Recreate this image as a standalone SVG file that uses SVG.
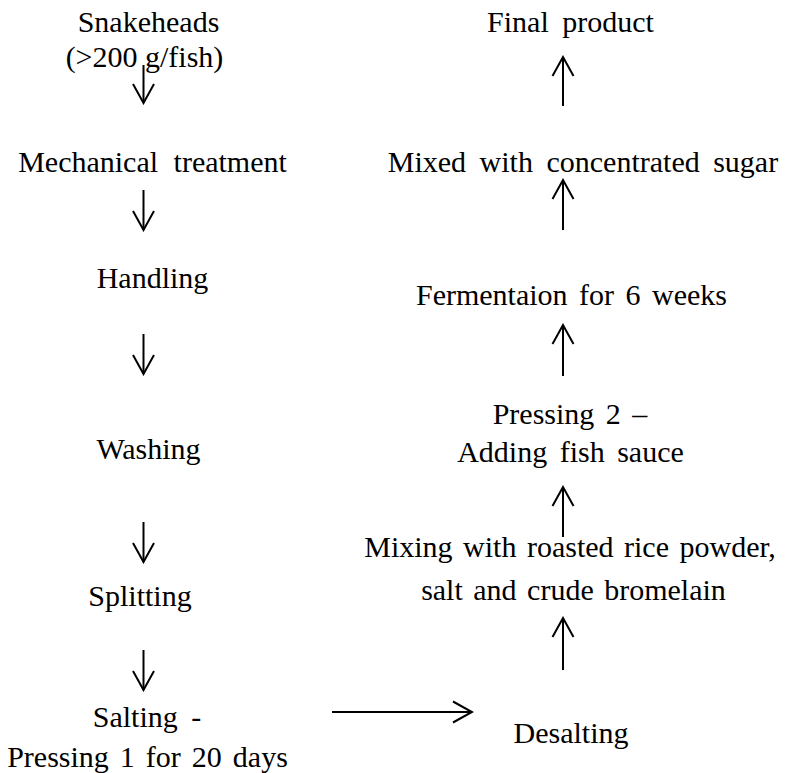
<svg xmlns="http://www.w3.org/2000/svg" width="798" height="773" viewBox="0 0 798 773" font-family="Liberation Serif" font-size="30">
<defs>
  <marker id="ah" markerUnits="userSpaceOnUse" viewBox="-21 -12 23 24" markerWidth="23" markerHeight="24" refX="0" refY="0" orient="auto">
    <path d="M-19,-10.5 L0,0 L-19,10.5" fill="none" stroke="#000" stroke-width="2"/>
  </marker>
</defs>
<rect width="798" height="773" fill="#fff"/>
<g text-anchor="middle" fill="#000">
<g id="n-snakeheads"><text x="148.5" y="32">Snakeheads</text><text x="144.5" y="67">(&gt;200 g/fish)</text></g>
<g id="n-mechanical"><text x="152.5" y="172" word-spacing="8">Mechanical treatment</text></g>
<g id="n-handling"><text x="152.5" y="288">Handling</text></g>
<g id="n-washing"><text x="148.5" y="459">Washing</text></g>
<g id="n-splitting"><text x="140" y="606">Splitting</text></g>
<g id="n-salting"><text x="147" y="727" word-spacing="6">Salting -</text><text x="147.5" y="767" word-spacing="3.5">Pressing 1 for 20 days</text></g>
<g id="n-final"><text x="570.5" y="32" word-spacing="6">Final product</text></g>
<g id="n-mixed"><text x="583" y="172" word-spacing="6">Mixed with concentrated sugar</text></g>
<g id="n-fermentation"><text x="571.5" y="305" word-spacing="4">Fermentaion for 6 weeks</text></g>
<g id="n-pressing2"><text x="570" y="424" word-spacing="4">Pressing 2 &#8211;</text><text x="570.5" y="462" word-spacing="5">Adding fish sauce</text></g>
<g id="n-mixing"><text x="570" y="557" word-spacing="3">Mixing with roasted rice powder,</text><text x="573.5" y="600" word-spacing="3">salt and crude bromelain</text></g>
<g id="n-desalting"><text x="571" y="743">Desalting</text></g>
</g>
<g id="connectors" stroke="#000" stroke-width="2" fill="none">
  <line x1="143.5" y1="65" x2="143.5" y2="103" marker-end="url(#ah)"/>
  <line x1="143.5" y1="190" x2="143.5" y2="230" marker-end="url(#ah)"/>
  <line x1="143.5" y1="334" x2="143.5" y2="374" marker-end="url(#ah)"/>
  <line x1="143.5" y1="522" x2="143.5" y2="562" marker-end="url(#ah)"/>
  <line x1="143.5" y1="650" x2="143.5" y2="690" marker-end="url(#ah)"/>
  <line x1="332" y1="712" x2="472" y2="712" marker-end="url(#ah)"/>
  <line x1="563" y1="670" x2="563" y2="618" marker-end="url(#ah)"/>
  <line x1="563" y1="537" x2="563" y2="487" marker-end="url(#ah)"/>
  <line x1="563" y1="376" x2="563" y2="325" marker-end="url(#ah)"/>
  <line x1="563" y1="230" x2="563" y2="180" marker-end="url(#ah)"/>
  <line x1="563" y1="106" x2="563" y2="57" marker-end="url(#ah)"/>
</g>
</svg>
